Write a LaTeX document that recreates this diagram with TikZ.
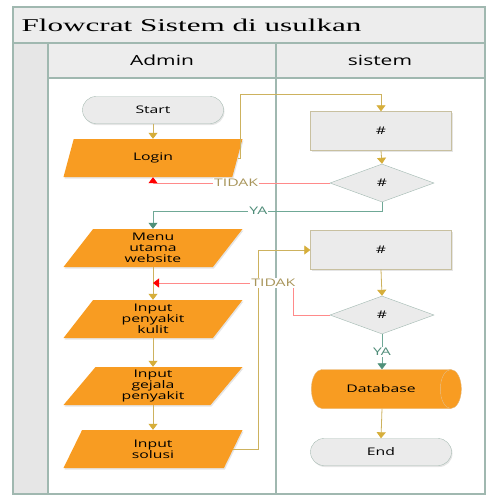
\documentclass[tikz,border=0pt]{standalone}
\usepackage{fontspec}
\setmainfont[FakeStretch=1.5]{Open Sans}
\newfontfamily\judulfont[FakeStretch=1.73]{Liberation Serif}
\usepackage{xcolor}
\usepackage{tikz}
\usetikzlibrary{shapes.geometric}
\usetikzlibrary{shapes.misc}
\usetikzlibrary{arrows.meta}
\usetikzlibrary{shadows}
\definecolor{garislane}{HTML}{A0B8B0}
\definecolor{abukepala}{HTML}{EDEDED}
\definecolor{abustrip}{HTML}{E6E6E6}
\definecolor{oren}{HTML}{F89C22}
\definecolor{abukotak}{HTML}{EBEBEB}
\definecolor{garistan}{HTML}{C8C0A0}
\definecolor{garisterm}{HTML}{A8BCB4}
\definecolor{kuning}{HTML}{CDB25E}
\definecolor{kuningujung}{HTML}{D6AE3A}
\definecolor{merah}{HTML}{FF8A8A}
\definecolor{merahujung}{HTML}{FF0000}
\definecolor{hijau}{HTML}{6FA896}
\definecolor{hijauujung}{HTML}{4E9079}
\definecolor{teksTidak}{HTML}{A8955A}
\definecolor{teksYa}{HTML}{4E8C78}

\begin{document}
\begin{tikzpicture}[x=1pt, y=-1pt,
            lane/.style = {draw = garislane, line width = 1.1pt},
            teks/.style = {font = \fontsize{10.5}{11}\selectfont, align = center},
            terminal/.style = {teks, rounded rectangle, draw = garisterm, fill = abukotak,
                minimum width = 141pt, minimum height = 27pt, inner sep = 0pt,
                drop shadow = {shadow xshift = 1pt, shadow yshift = -1.5pt, opacity = 0.2}},
            datain/.style = {teks, trapezium, trapezium left angle = 45, trapezium right angle = 135,
                trapezium stretches body, minimum width = 179pt, minimum height = 38pt,
                inner sep = 0pt, fill = oren,
                drop shadow = {shadow xshift = 1pt, shadow yshift = -1.5pt, opacity = 0.2}},
            proses/.style = {teks, rectangle, draw = garistan, fill = abukotak,
                minimum width = 141pt, minimum height = 39pt,
                drop shadow = {shadow xshift = 1pt, shadow yshift = -1.5pt, opacity = 0.2}},
            cek/.style = {teks, diamond, draw = garislane, fill = abukotak, aspect = 2.7,
                minimum width = 104pt, minimum height = 38pt, inner sep = 0pt},
            basisdata/.style = {teks, cylinder, cylinder uses custom fill,
                cylinder body fill = oren, cylinder end fill = oren, draw = oren!85!black!60,
                aspect = 2.6, minimum width = 39pt, minimum height = 150pt, inner sep = 0pt},
            alurkuning/.style = {draw = kuning, line width = 0.8pt,
                -{Triangle[length = 6pt, width = 9pt, color = kuningujung]}},
            alurmerah/.style = {draw = merah, line width = 0.8pt,
                -{Triangle[length = 6pt, width = 9pt, color = merahujung]}},
            alurhijau/.style = {draw = hijau, line width = 0.8pt,
                -{Triangle[length = 6pt, width = 9pt, color = hijauujung]}},
            labeltidak/.style = {font = \fontsize{10.5}{11}\selectfont, text = teksTidak,
                fill = white, inner sep = 1pt},
            labelya/.style = {font = \fontsize{10.5}{11}\selectfont, text = teksYa,
                fill = white, inner sep = 1pt}]
            \useasboundingbox (0, 0) rectangle (486, 496);

            \filldraw[lane, fill = abukepala] (13, 7) rectangle (485, 43);
            \filldraw[lane, fill = abustrip] (13, 43) rectangle (48, 494);
            \filldraw[lane, fill = abukepala] (48, 43) rectangle (485, 78);
            \filldraw[lane, fill = white] (48, 78) rectangle (276, 494);
            \filldraw[lane, fill = white] (276, 78) rectangle (485, 494);
            \draw[lane] (276, 43) -- (276, 78);

            \node[anchor = west, font = \judulfont\fontsize{18}{20}\selectfont] (judul) at (18, 25) {Flowcrat Sistem di usulkan};
            \node[font = \fontsize{14}{16}\selectfont] (admin) at (162, 60) {Admin};
            \node[font = \fontsize{14}{16}\selectfont] (sistem) at (380, 60) {sistem};

            \node[terminal] (mulai) at (153, 110) {Start};
            \node[datain] (login) at (153, 158) {Login};
            \node[datain] (menu) at (153, 248) {Menu\\utama\\website};
            \node[datain] (kulit) at (153, 319) {Input\\penyakit\\kulit};
            \node[datain] (gejala) at (153, 386) {Input\\gejala\\penyakit};
            \node[datain] (solusi) at (153, 449) {Input\\solusi};

            \node[proses] (kotak1) at (381, 131) {\#};
            \node[cek] (cek1) at (382, 183) {\#};
            \node[proses] (kotak2) at (381, 250) {\#};
            \node[cek] (cek2) at (382, 315) {\#};
            \node[basisdata] (db) at (381, 389) {Database};
            \node[terminal] (selesai) at (381, 452) {End};

            \coordinate (k1) at (240, 94);
            \coordinate (k2) at (153, 211);
            \coordinate (k3) at (258, 250);
            \coordinate (k4) at (293, 283);

            \draw[alurkuning] (mulai.south) -- (mulai.south |- login.north);
            \draw[alurkuning] (login.east) -| (k1) -| (kotak1.north);
            \draw[alurkuning] (kotak1.south) -- (cek1.north);
            \draw[alurkuning] (menu.south) -- (menu.south |- kulit.north);
            \draw[alurkuning] (kulit.south) -- (kulit.south |- gejala.north);
            \draw[alurkuning] (gejala.south) -- (gejala.south |- solusi.north);
            \draw[alurkuning] (solusi.east) -| (k3) -- (kotak2.west);
            \draw[alurkuning] (kotak2.south) -- (cek2.north);
            \draw[alurkuning] (db.south -| cek2.south) -- (selesai.north);

            \draw[alurmerah] (cek1.west) -| node[pos = 0.265, labeltidak] (tidak1) {TIDAK} (login.south);
            \draw[alurhijau] (cek1.south) |- node[pos = 0.77, labelya] (ya1) {YA} (k2) -- (k2 |- menu.north);
            \draw[alurmerah] (cek2.west) -| (k4) -- node[pos = 0.14, labeltidak] (tidak2) {TIDAK} (k4 -| menu.south);
            \draw[alurhijau] (cek2.south) -- node[labelya] (ya2) {YA} (cek2.south |- db.north);
        \end{tikzpicture}
\end{document}
